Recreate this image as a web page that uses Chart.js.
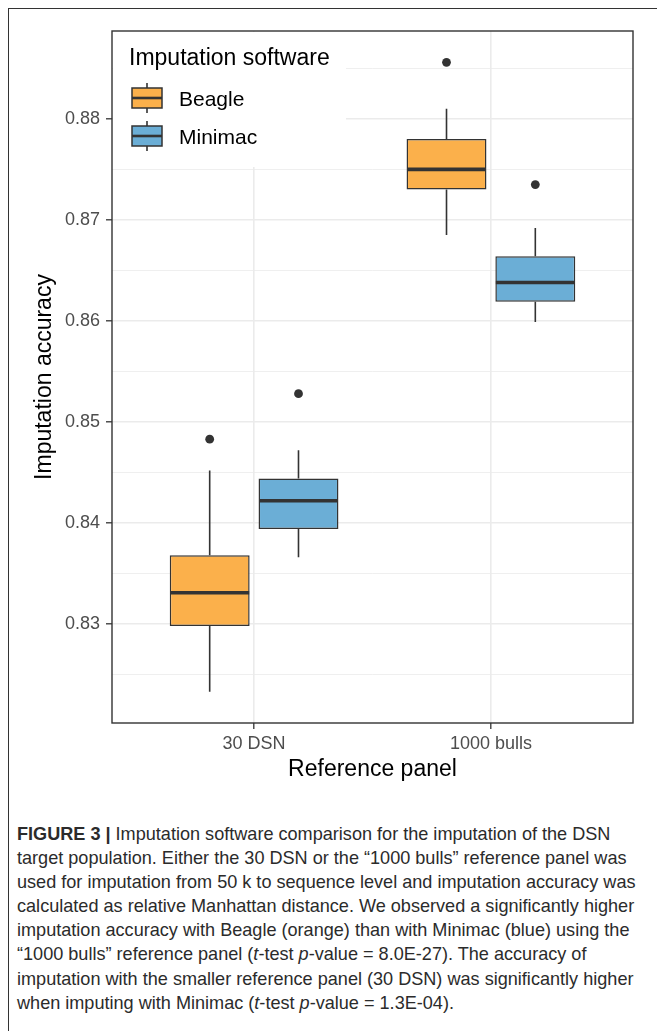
<!DOCTYPE html>
<html>
<head>
<meta charset="utf-8">
<script src="https://cdn.jsdelivr.net/npm/chart.js@4.4.1/dist/chart.umd.min.js"></script>
<style>
  html, body { margin: 0; padding: 0; background: #fff; }
  body { width: 657px; height: 1031px; position: relative; overflow: hidden; font-family: "Liberation Sans", Arial, sans-serif; }
  #frame { position: absolute; left: 8px; top: 8px; right: -10px; bottom: -10px; border-top: 1px solid #333; border-left: 1px solid #333; }
  #chart { position: absolute; left: 0; top: 0; }
  #caption { position: absolute; left: 17px; top: 822px; font-size: 18.1px; line-height: 24.1px; color: #2b2b2b; }
  #caption div { white-space: nowrap; }
</style>
</head>
<body>
<div id="frame"></div>
<canvas id="chart" width="657" height="800"></canvas>
<div id="caption">
  <div><b>FIGURE 3 |</b> Imputation software comparison for the imputation of the DSN</div>
  <div>target population. Either the 30 DSN or the “1000 bulls” reference panel was</div>
  <div>used for imputation from 50 k to sequence level and imputation accuracy was</div>
  <div>calculated as relative Manhattan distance. We observed a significantly higher</div>
  <div>imputation accuracy with Beagle (orange) than with Minimac (blue) using the</div>
  <div>“1000 bulls” reference panel (<i>t</i>-test <i>p</i>-value = 8.0E-27). The accuracy of</div>
  <div>imputation with the smaller reference panel (30 DSN) was significantly higher</div>
  <div>when imputing with Minimac (<i>t</i>-test <i>p</i>-value = 1.3E-04).</div>
</div>
<script>
// reference panels on the x axis
const categories = ['30 DSN', '1000 bulls'];

// Beagle box statistics per panel
const beagleLow = [0.8233, 0.8685];
const beagleQ1 = [0.8298, 0.8730];
const beagleMedian = [0.8331, 0.8750];
const beagleQ3 = [0.8368, 0.8780];
const beagleHigh = [0.8452, 0.8810];
const beagleOutliers = [[0.8483], [0.8856]];

// Minimac box statistics per panel
const minimacLow = [0.8366, 0.8599];
const minimacQ1 = [0.8394, 0.8619];
const minimacMedian = [0.8422, 0.8638];
const minimacQ3 = [0.8444, 0.8664];
const minimacHigh = [0.8472, 0.8692];
const minimacOutliers = [[0.8528], [0.8735]];

// axis ticks (labels on the major ones only)
const yTicks = [0.825, 0.83, 0.835, 0.84, 0.845, 0.85, 0.855, 0.86, 0.865, 0.87, 0.875, 0.88, 0.885];
const xTicks = [1, 2];

const FONT = '"Liberation Sans", Arial, sans-serif';
const ORANGE = '#FBB04B';
const BLUE = '#6BAED6';
const DARK = '#333333';

function isMajor(v) {
    return Math.abs(v * 100 - Math.round(v * 100)) < 1e-6;
}

function boxData(q1, q3) {
    return categories.map((c, i) => ({ x: i + 1, y: [q1[i], q3[i]] }));
}

const boxPlugin = {
    id: 'boxExtras',
    beforeDatasetsDraw(chart) {
        const ctx = chart.ctx, a = chart.chartArea;
        // legend background covers the grid
        ctx.save();
        ctx.fillStyle = '#fff';
        ctx.fillRect(a.left + 1, a.top + 1, 233, 135);
        ctx.restore();
    },
    afterDatasetsDraw(chart) {
        const ctx = chart.ctx, a = chart.chartArea, y = chart.scales.y;
        ctx.save();
        chart.data.datasets.forEach((ds, d) => {
            const meta = chart.getDatasetMeta(d);
            meta.data.forEach((bar, i) => {
                const x = bar.x, half = bar.width / 2;
                ctx.strokeStyle = DARK;
                ctx.lineWidth = 1.6;
                ctx.beginPath();
                ctx.moveTo(x, y.getPixelForValue(ds.q3[i]));
                ctx.lineTo(x, y.getPixelForValue(ds.high[i]));
                ctx.moveTo(x, y.getPixelForValue(ds.q1[i]));
                ctx.lineTo(x, y.getPixelForValue(ds.low[i]));
                ctx.stroke();
                ctx.lineWidth = 3.6;
                ctx.beginPath();
                const ym = y.getPixelForValue(ds.median[i]);
                ctx.moveTo(x - half + 0.5, ym);
                ctx.lineTo(x + half - 0.5, ym);
                ctx.stroke();
                ctx.fillStyle = DARK;
                ds.outliers[i].forEach(v => {
                    ctx.beginPath();
                    ctx.arc(x, y.getPixelForValue(v), 4.4, 0, Math.PI * 2);
                    ctx.fill();
                });
            });
        });

        // panel border
        ctx.strokeStyle = DARK;
        ctx.lineWidth = 1.4;
        ctx.strokeRect(a.left, a.top, a.right - a.left, a.bottom - a.top);

        // legend
        ctx.fillStyle = '#000';
        ctx.textBaseline = 'alphabetic';
        ctx.font = '23px ' + FONT;
        ctx.fillText('Imputation software', a.left + 17, a.top + 34);
        ctx.font = '21px ' + FONT;
        chart.data.datasets.forEach((ds, d) => {
            const top = a.top + 57 + d * 38;
            const bx = a.left + 20;
            ctx.strokeStyle = DARK;
            ctx.lineWidth = 1.6;
            ctx.beginPath();
            ctx.moveTo(bx + 15, top - 5);
            ctx.lineTo(bx + 15, top + 25);
            ctx.stroke();
            ctx.fillStyle = ds.backgroundColor;
            ctx.fillRect(bx, top, 30, 20);
            ctx.lineWidth = 1.5;
            ctx.strokeRect(bx, top, 30, 20);
            ctx.lineWidth = 2.6;
            ctx.beginPath();
            ctx.moveTo(bx, top + 10);
            ctx.lineTo(bx + 30, top + 10);
            ctx.stroke();
            ctx.fillStyle = '#000';
            ctx.fillText(ds.label, a.left + 67, top + 18.3);
        });
        ctx.restore();
    }
};

new Chart(document.getElementById('chart'), {
    type: 'bar',
    data: {
        datasets: [{
            label: 'Beagle',
            data: boxData(beagleQ1, beagleQ3),
            q1: beagleQ1, q3: beagleQ3, median: beagleMedian,
            low: beagleLow, high: beagleHigh, outliers: beagleOutliers,
            backgroundColor: ORANGE
        }, {
            label: 'Minimac',
            data: boxData(minimacQ1, minimacQ3),
            q1: minimacQ1, q3: minimacQ3, median: minimacMedian,
            low: minimacLow, high: minimacHigh, outliers: minimacOutliers,
            backgroundColor: BLUE
        }]
    },
    options: {
        responsive: false,
        animation: false,
        devicePixelRatio: 1,
        layout: { padding: { left: 0, right: 24, top: 31, bottom: 0 } },
        datasets: {
            bar: {
                borderColor: DARK,
                borderWidth: 1.5,
                borderSkipped: false,
                categoryPercentage: 0.75,
                barPercentage: 0.9
            }
        },
        plugins: { legend: { display: false }, tooltip: { enabled: false } },
        scales: {
            x: {
                type: 'linear',
                min: 0.4,
                max: 2.6,
                offset: false,
                afterBuildTicks: s => { s.ticks = xTicks.map(v => ({ value: v })); },
                afterFit: s => { s.height = 77; },
                ticks: {
                    callback: v => categories[Math.round(v) - 1],
                    font: { family: FONT, size: 18 },
                    color: '#4d4d4d',
                    padding: 4,
                    maxRotation: 0
                },
                grid: { offset: false, color: '#ebebeb', lineWidth: 1.6, tickLength: 6, tickColor: DARK, tickWidth: 1.3 },
                border: { display: false },
                title: {
                    display: true,
                    text: 'Reference panel',
                    color: '#000',
                    font: { family: FONT, size: 23 },
                    padding: { top: 0, bottom: 17 }
                }
            },
            y: {
                min: 0.8202,
                max: 0.8887,
                afterBuildTicks: s => { s.ticks = yTicks.map(v => ({ value: v })); },
                afterFit: s => { s.width = 112; },
                ticks: {
                    callback: v => isMajor(v) ? v.toFixed(2) : '',
                    font: { family: FONT, size: 18 },
                    color: '#4d4d4d',
                    padding: 6
                },
                grid: {
                    color: '#ebebeb',
                    lineWidth: c => isMajor(c.tick.value) ? 1.6 : 0.8,
                    tickLength: 6,
                    tickColor: c => isMajor(c.tick.value) ? DARK : 'rgba(0,0,0,0)',
                    tickWidth: 1.3
                },
                border: { display: false },
                title: {
                    display: true,
                    text: 'Imputation accuracy',
                    color: '#000',
                    font: { family: FONT, size: 23 },
                    padding: { top: 31, bottom: 0 }
                }
            }
        }
    },
    plugins: [boxPlugin]
});
</script>
</body>
</html>
